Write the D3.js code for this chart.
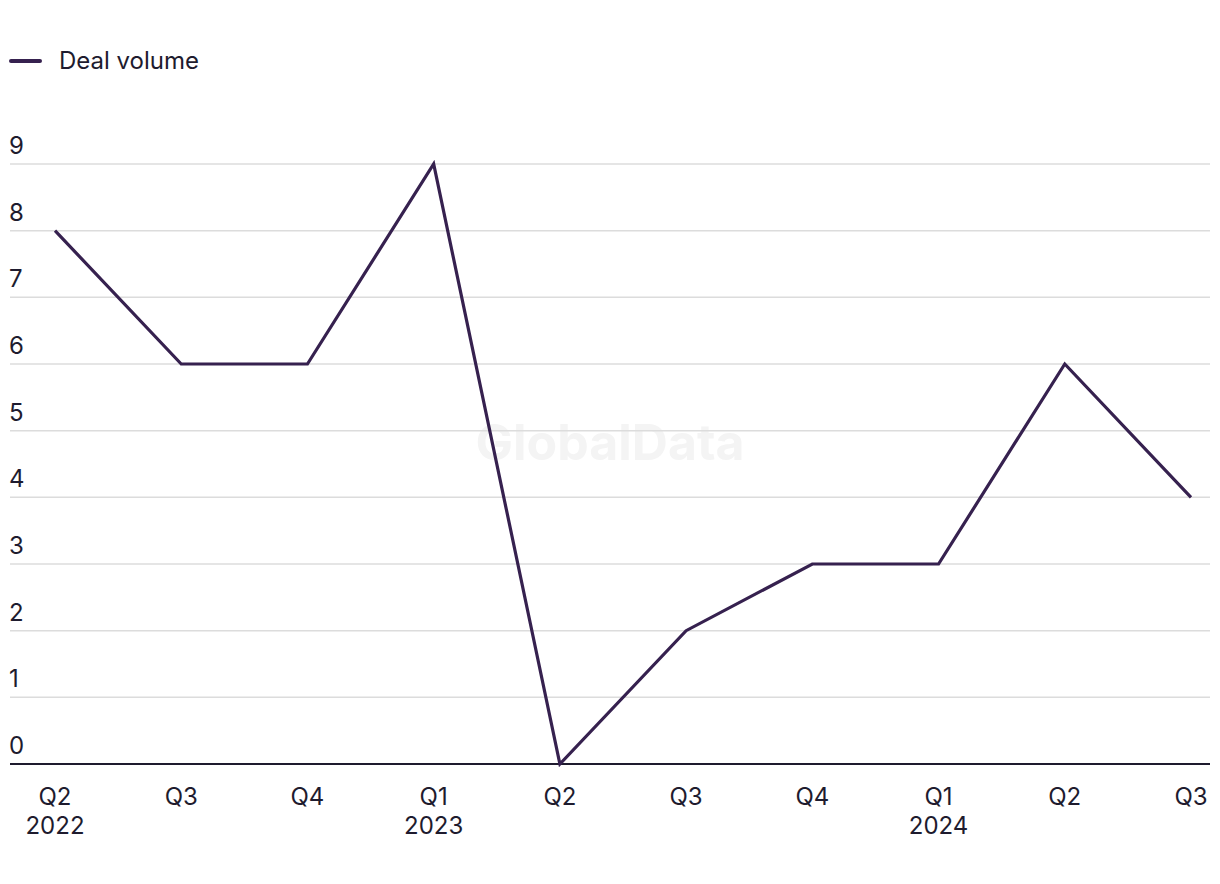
<!DOCTYPE html>
<html><head><meta charset="utf-8">
<script src="https://cdn.jsdelivr.net/npm/d3@7"></script>
<style>
html,body{margin:0;padding:0;background:#fff;}
svg text{font-family:"Inter","Roboto",sans-serif;}
</style></head>
<body>
<svg id="chart" width="1220" height="884"></svg>
<script>
const quarters = ["Q2","Q3","Q4","Q1","Q2","Q3","Q4","Q1","Q2","Q3"];
const years = ["2022","","","2023","","","","2024","",""];
const dealVolume = [8,6,6,9,0,2,3,3,6,4];
const yTicks = [0,1,2,3,4,5,6,7,8,9];
const seriesName = "Deal volume";

const svg = d3.select("#chart");
const lineColor = "#36214f";
const textColor = "#1e1b2e";
const idx = d3.range(dealVolume.length);

const x = d3.scalePoint().domain(idx).range([55,1191]);
const y = d3.scaleLinear().domain([0,9]).range([764,164]);

// watermark
svg.append("text").attr("x",610).attr("y",460).attr("text-anchor","middle")
  .attr("font-size",50).attr("font-weight",700).attr("fill","#f4f4f4")
  .text("GlobalData");

// grid
const grid = svg.append("g");
grid.selectAll("line").data(yTicks.filter(d=>d>0)).join("line")
  .attr("x1",10).attr("x2",1210).attr("y1",d=>y(d)).attr("y2",d=>y(d))
  .attr("stroke","#dcdcdc").attr("stroke-width",1.5);

// y labels
svg.append("g").selectAll("text").data(yTicks).join("text")
  .attr("x",9).attr("y",d=>y(d)-10)
  .attr("font-size",24).attr("fill",textColor).text(d=>d);

// axis line
svg.append("line").attr("x1",10).attr("x2",1210).attr("y1",y(0)).attr("y2",y(0))
  .attr("stroke","#1e1b2e").attr("stroke-width",2);

// x labels
const xl = svg.append("g");
xl.selectAll("text.q").data(idx).join("text").attr("class","q")
  .attr("x",d=>x(d)).attr("y",805).attr("text-anchor","middle")
  .attr("font-size",24).attr("fill",textColor).text(d=>quarters[d]);
xl.selectAll("text.yr").data(idx.filter(i=>years[i])).join("text").attr("class","yr")
  .attr("x",d=>x(d)).attr("y",834).attr("text-anchor","middle")
  .attr("font-size",24).attr("fill",textColor).text(d=>years[d]);

// line
const line = d3.line().x((d,i)=>x(i)).y(d=>y(d));
svg.append("path").datum(dealVolume).attr("d",line)
  .attr("fill","none").attr("stroke",lineColor).attr("stroke-width",3.2)
  .attr("stroke-linejoin","miter");

// legend
svg.append("line").attr("x1",11).attr("x2",40).attr("y1",61).attr("y2",61)
  .attr("stroke",lineColor).attr("stroke-width",4).attr("stroke-linecap","round");
svg.append("text").attr("x",59).attr("y",69).attr("font-size",24)
  .attr("fill",textColor).text(seriesName);
</script>
</body></html>
